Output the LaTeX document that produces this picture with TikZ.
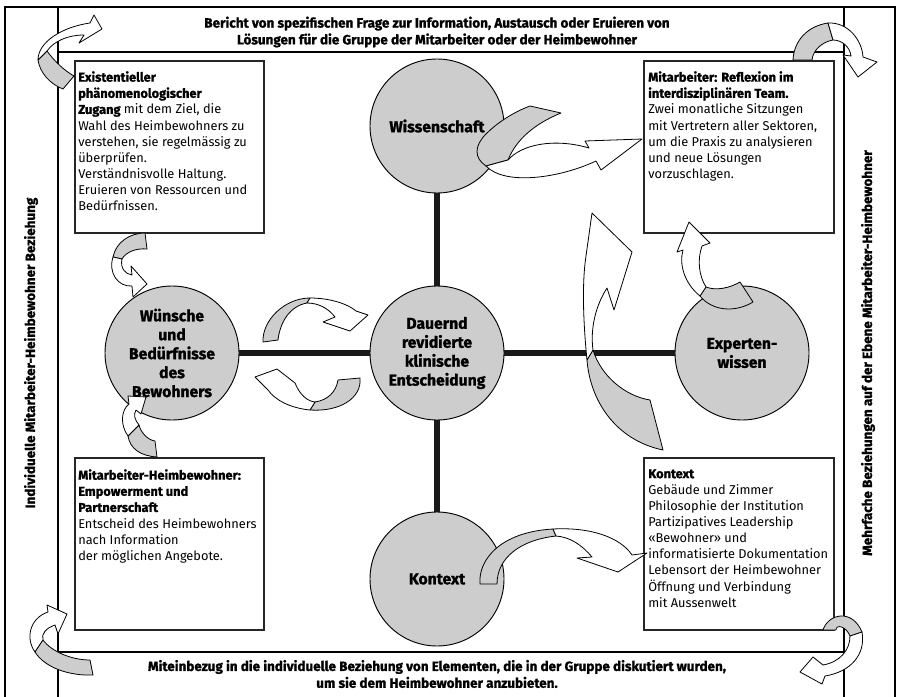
\documentclass[tikz,border=0pt]{standalone}
\usepackage{fontspec}
\setmainfont{Fira Sans}[BoldFeatures={FakeBold=1.2}]

\definecolor{circgray}{RGB}{205,205,205}
\tikzset{
  bubble/.style={circle,draw=black,line width=0.7pt,fill=circgray,minimum size=100.5pt,inner sep=0pt,align=center,font=\fontsize{11.8}{14.2}\selectfont\bfseries},
  infobox/.style={draw=black!85,line width=0.9pt,fill=white,minimum width=141.75pt,minimum height=129pt,inner sep=0pt},
  infotext/.style={anchor=north west,inner sep=0pt,align=left,font=\fontsize{9.6}{12.1}\selectfont},
  bandtext/.style={align=center,inner sep=0pt,font=\fontsize{10.1}{12.6}\selectfont\bfseries},
  spoke/.style={line width=4pt,black!90},
  frameline/.style={line width=1pt},
  ribbonback/.style={draw=black,line width=0.6pt,fill=circgray,line join=round},
  ribbonfront/.style={draw=black,line width=0.6pt,fill=white,line join=round},
}

\begin{document}
\begin{tikzpicture}[x=0.75pt,y=0.75pt,yscale=-1,xscale=1]
\useasboundingbox (0,0) rectangle (899,696);

%Frame and bands
\draw[frameline] (5,7) rectangle (895,702);
\draw[frameline] (58,7) -- (58,702);
\draw[frameline] (844,7) -- (844,702);
\draw[frameline] (58,52) -- (844,52);
\draw[frameline] (58,652) -- (844,652);

% Text Node
\node[bandtext] (topband) at (437,32) {Bericht von spezifischen Frage zur Information, Austausch oder Eruieren von\\Lösungen für die Gruppe der Mitarbeiter oder der Heimbewohner};
% Text Node
\node[bandtext] (bottomband) at (437,674) {Miteinbezug in die individuelle Beziehung von Elementen, die in der Gruppe diskutiert wurden,\\um sie dem Heimbewohner anzubieten.};
% Text Node
\node[bandtext,rotate=90] (leftband) at (31,353) {Individuelle Mitarbeiter-Heimbewohner Beziehung};
% Text Node
\node[bandtext,rotate=90] (rightband) at (868,353) {Mehrfache Beziehungen auf der Ebene Mitarbeiter-Heimbewohner};

%Boxes
\node[infobox] (zugang) at (169.5,147) {};
\node[infotext] (zugangtxt) at (78,71) {\textbf{Existentieller}\\\textbf{phänomenologischer}\\\textbf{Zugang} mit dem Ziel, die\\Wahl des Heimbewohners zu\\verstehen, sie regelmässig zu\\überprüfen.\\Verständnisvolle Haltung.\\Eruieren von Ressourcen und\\Bedürfnissen.};
\node[infobox,minimum width=142.5pt] (team) at (739,147) {};
\node[infotext] (teamtxt) at (648,71) {\textbf{Mitarbeiter: Reflexion im}\\\textbf{interdisziplinären Team.}\\Zwei monatliche Sitzungen\\mit Vertretern aller Sektoren,\\um die Praxis zu analysieren\\und neue Lösungen\\vorzuschlagen.};
\node[infobox] (empower) at (169.5,544) {};
\node[infotext] (empowertxt) at (78,469) {\textbf{Mitarbeiter-Heimbewohner:}\\\textbf{Empowerment und}\\\textbf{Partnerschaft}\\Entscheid des Heimbewohners\\nach Information\\der möglichen Angebote.};
\node[infobox,minimum width=142.5pt] (ktxbox) at (739,544) {};
\node[infotext] (ktxboxtxt) at (648,469) {\textbf{Kontext}\\Gebäude und Zimmer\\Philosophie der Institution\\Partizipatives Leadership\\«Bewohner» und\\informatisierte Dokumentation\\Lebensort der Heimbewohner\\Öffnung und Verbindung\\mit Aussenwelt};

%Circles
\node[bubble] (wiss) at (437,126) {Wissenschaft};
\node[bubble] (entsch) at (437,353) {Dauernd\\revidierte\\klinische\\Entscheidung};
\node[bubble] (wuensche) at (172,353) {Wünsche\\und\\Bedürfnisse\\des\\Bewohners};
\node[bubble] (experten) at (742,353) {Experten-\\wissen};
\node[bubble] (kontext) at (437,579) {Kontext};

%Spokes
\draw[spoke] (wiss) -- (entsch);
\draw[spoke] (entsch) -- (kontext);
\draw[spoke] (wuensche) -- (entsch);
\draw[spoke] (entsch) -- (experten);

%Curved arrow: top left corner
\draw[ribbonback] (47,51) .. controls (55,62) and (65,71) .. (74,76) -- (63,89) .. controls (50,84) and (40,73) .. (38,60) -- cycle;
\draw[ribbonfront] (38,60) .. controls (38,42) and (62,27) .. (90,23) -- (94,15) -- (102,29) -- (79,43) -- (84,35) .. controls (68,35) and (54,41) .. (47,51) -- cycle;
%Curved arrow: top right corner
\draw[ribbonback] (793,60) .. controls (794,40) and (808,26) .. (828,23) -- (833,40) .. controls (822,42) and (813,50) .. (812,60) -- cycle;
\draw[ribbonfront] (828,23) .. controls (848,22) and (862,40) .. (863,57) -- (877,62) -- (858,77) -- (843,55) -- (851,56) .. controls (850,47) and (842,40) .. (833,40) -- cycle;
%Curved arrow: Wissenschaft to team
\draw[ribbonback] (530,106) -- (561,113) .. controls (534,124) and (516,140) .. (508,160) -- (486,166) .. controls (474,158) and (474,146) .. (486,134) .. controls (498,122) and (514,112) .. (530,106) -- cycle;
\draw[ribbonfront] (486,166) .. controls (505,186) and (560,178) .. (596,161) -- (601,170) -- (642,139) -- (585,141) -- (589,148) .. controls (555,138) and (522,144) .. (508,160) -- cycle;
%Curved arrow: Expertenwissen to team
\draw[ribbonback] (740,282) -- (753,302) .. controls (735,313) and (712,311) .. (700,296) -- (706,287) .. controls (716,291) and (730,288) .. (740,282) -- cycle;
\draw[ribbonfront] (700,296) .. controls (684,283) and (679,264) .. (683,250) -- (677,252) -- (689,222) -- (710,243) -- (702,246) .. controls (697,260) and (699,276) .. (706,287) -- cycle;
%Curved arrow: context box upwards
\draw[ribbonback] (587,360) .. controls (590,400) and (615,440) .. (663,450) -- (650,400) .. controls (625,396) and (601,376) .. (593,350) -- cycle;
\draw[ribbonfront] (587,360) .. controls (583,320) and (582,282) .. (586,256) -- (592,213) -- (632,252) -- (614,310) -- (607,288) .. controls (596,305) and (590,328) .. (593,350) -- cycle;
%Curved arrow: Kontext to context box
\draw[ribbonback] (480,584) .. controls (478,560) and (500,532) .. (553,529) -- (556,536) .. controls (520,540) and (497,558) .. (497,584) -- cycle;
\draw[ribbonfront] (553,529) .. controls (590,527) and (620,537) .. (632,555) -- (647,553) -- (618,572) -- (577,558) -- (592,557) .. controls (582,545) and (570,537) .. (556,536) -- cycle;
%Curved arrow: bottom right corner
\draw[ribbonback] (823,630) .. controls (828,614) and (852,608) .. (862,632) -- (850,636) .. controls (846,626) and (836,624) .. (836,630) -- cycle;
\draw[ribbonfront] (862,632) .. controls (866,655) and (850,672) .. (825,676) -- (822,684) -- (800,672) -- (813,657) -- (823,665) .. controls (840,662) and (850,650) .. (850,636) -- cycle;
%Curved arrow: bottom left corner
\draw[ribbonfront] (35,652) .. controls (25,638) and (30,618) .. (48,612) -- (47,605) -- (67,614) -- (58,634) -- (55,625) .. controls (46,628) and (41,634) .. (43,640) -- cycle;
\draw[ribbonback] (43,640) .. controls (52,652) and (72,660) .. (90,660) -- (93,675) .. controls (70,676) and (45,668) .. (35,652) -- cycle;
%Curved arrow: approach box to Wuensche
\draw[ribbonback] (145,233) -- (147,249) .. controls (136,248) and (126,252) .. (122,259) -- (113,257) .. controls (116,242) and (130,233) .. (145,233) -- cycle;
\draw[ribbonfront] (113,257) .. controls (108,273) and (118,287) .. (132,286) -- (133,297) -- (147,284) -- (131,266) -- (132,275) .. controls (125,274) and (120,268) .. (122,259) -- cycle;
%Curved arrow: empowerment box to Wuensche
\draw[ribbonback] (128,436) .. controls (130,449) and (141,456) .. (157,457) -- (155,441) .. controls (148,440) and (141,433) .. (139,425) -- cycle;
\draw[ribbonfront] (128,436) .. controls (120,425) and (121,410) .. (129,404) -- (128,396) -- (146,397) -- (141,414) -- (136,410) .. controls (133,415) and (135,420) .. (139,425) -- cycle;
%Curved arrow: upper loop
\draw[ribbonback] (263,342) .. controls (262,320) and (285,298) .. (310,298) -- (307,303) .. controls (290,306) and (280,322) .. (278,340) -- cycle;
\draw[ribbonfront] (310,298) .. controls (330,298) and (348,304) .. (356,311) -- (368,315) -- (350,331) -- (323,322) -- (335,317) .. controls (328,308) and (318,303) .. (307,303) -- cycle;
%Curved arrow: lower loop
\draw[ribbonback] (360,378) .. controls (362,398) and (340,412) .. (310,410) -- (315,402) .. controls (328,400) and (336,392) .. (338,380) -- cycle;
\draw[ribbonfront] (310,410) .. controls (290,408) and (275,400) .. (268,390) -- (255,377) -- (277,369) -- (295,383) .. controls (300,395) and (307,401) .. (315,402) -- cycle;

\end{tikzpicture}
\end{document}
